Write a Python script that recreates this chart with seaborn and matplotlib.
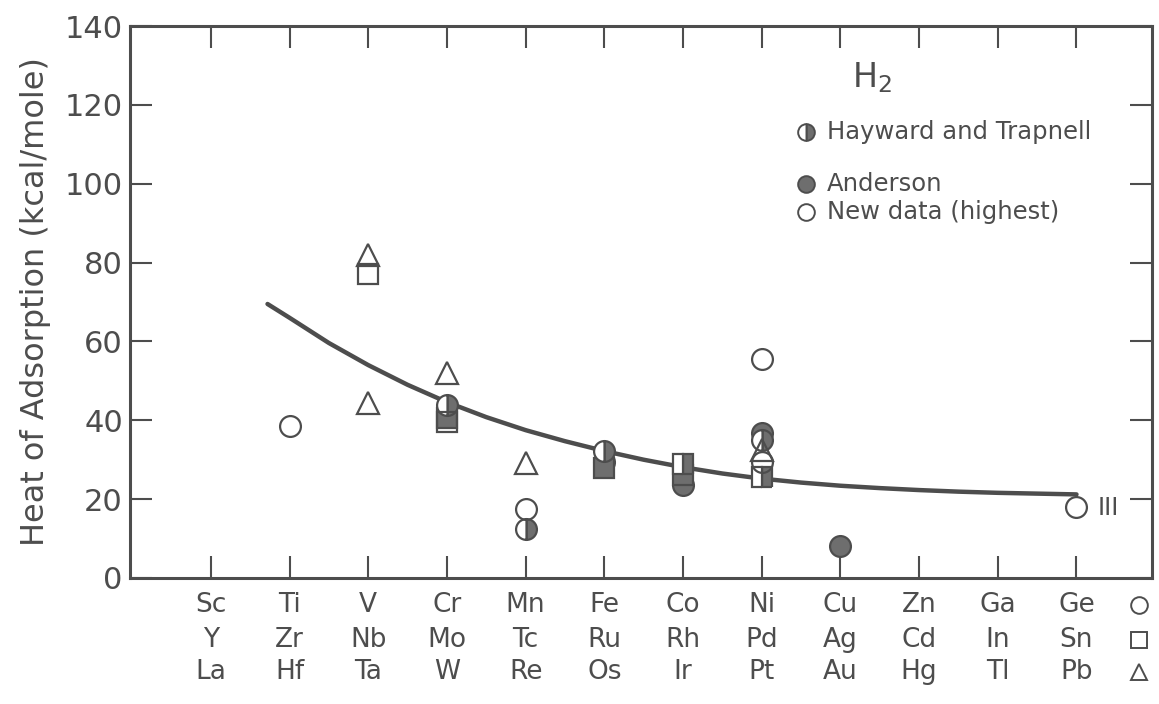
import matplotlib
matplotlib.use("Agg")
import matplotlib.pyplot as plt
import matplotlib.transforms as mtransforms
import seaborn as sns

# columns of the periodic table, one tick each (rows: period 4 / 5 / 6)
period4 = ["Sc", "Ti", "V", "Cr", "Mn", "Fe", "Co", "Ni", "Cu", "Zn", "Ga", "Ge"]
period5 = ["Y", "Zr", "Nb", "Mo", "Tc", "Ru", "Rh", "Pd", "Ag", "Cd", "In", "Sn"]
period6 = ["La", "Hf", "Ta", "W", "Re", "Os", "Ir", "Pt", "Au", "Hg", "Tl", "Pb"]

# points: column index, period (picks the marker), heat in kcal/mole
new_col = [1, 2, 2, 2, 3, 3, 4, 4, 7, 7, 7, 11]
new_per = [4, 5, 6, 6, 6, 5, 6, 4, 4, 6, 4, 4]
new_val = [38.5, 77, 82, 44.5, 52, 39.5, 29.2, 17.6, 55.5, 32.5, 29.5, 18]

hayward_col = [3, 4, 5, 6, 7, 7]
hayward_per = [4, 4, 4, 5, 4, 5]
hayward_val = [44, 12.5, 32.3, 28.8, 35, 25.5]

anderson_col = [3, 5, 5, 6, 6, 7, 8]
anderson_per = [5, 4, 5, 4, 5, 4, 4]
anderson_val = [40.5, 29.5, 28, 23.5, 26, 36.8, 8]

# smooth trend line drawn through the data
curve_col = [0.72, 1, 1.5, 2, 2.5, 3, 3.5, 4, 4.5, 5, 5.5, 6, 6.5, 7, 7.5, 8,
             8.5, 9, 9.5, 10, 10.5, 11]
curve_val = [69.5, 66, 59.6, 54.0, 49.0, 44.6, 40.8, 37.5, 34.7, 32.2, 30.0, 28.1,
             26.5, 25.2, 24.2, 23.4, 22.8, 22.3, 21.9, 21.6, 21.4, 21.2]

y_ticks = [0, 20, 40, 60, 80, 100, 120, 140]

INK = "#4d4d4d"
FILL = "#6e6e6e"
MARKER = {4: "o", 5: "s", 6: "^"}
MSIZE = {4: 15, 5: 14, 6: 16}

sns.set_style("ticks")
plt.rcParams["font.family"] = ["DejaVu Sans"]

fig = plt.figure(figsize=(11.59, 7.04), dpi=100)
ax = fig.add_axes([0.112, 0.179, 0.882, 0.784])

sns.lineplot(x=curve_col, y=curve_val, ax=ax, color=INK, linewidth=3.2,
             sort=False, estimator=None)


def draw_points(cols, pers, vals, style):
    for c, p, v in zip(cols, pers, vals):
        kw = dict(marker=MARKER[p], markersize=MSIZE[p], markeredgecolor=INK,
                  markeredgewidth=1.6, linestyle="none", zorder=3)
        if style == "open":
            kw.update(markerfacecolor="none", zorder=4)
        elif style == "half":
            kw.update(fillstyle="right", markerfacecolor=FILL,
                      markerfacecoloralt="white")
        else:
            kw.update(markerfacecolor=FILL)
        ax.plot([c], [v], **kw)


draw_points(anderson_col, anderson_per, anderson_val, "full")
draw_points(hayward_col, hayward_per, hayward_val, "half")
draw_points(new_col, new_per, new_val, "open")

ax.text(11.27, 17.7, "III", fontsize=17, color=INK, va="center", ha="left")

ax.set_xlim(-1.03, 11.96)
ax.set_ylim(0, 140)
ax.set_xticks(range(len(period4)))
ax.set_xticklabels([])
ax.set_yticks(y_ticks)
ax.set_yticklabels([str(t) for t in y_ticks])
ax.tick_params(axis="both", direction="in", length=16, width=1.5, color=INK,
               top=True, right=True, labelcolor=INK)
ax.tick_params(axis="y", labelsize=22, pad=5)
for s in ax.spines.values():
    s.set_linewidth(2.2)
    s.set_color(INK)

ax.set_ylabel("Heat of Adsorption (kcal/mole)", fontsize=23, color=INK, labelpad=10)

# element names under each tick, one line per period, plus the marker key
trans = mtransforms.blended_transform_factory(ax.transData, ax.transAxes)
row_y = [-0.049, -0.112, -0.170]
for names, yy, per in zip([period4, period5, period6], row_y, [4, 5, 6]):
    for i, name in enumerate(names):
        ax.text(i, yy, name, transform=trans, ha="center", va="center",
                fontsize=19, color=INK)
    ax.plot([11.8], [yy], transform=trans, clip_on=False, marker=MARKER[per],
            markersize=12, markerfacecolor="none", markeredgecolor=INK,
            markeredgewidth=1.4, linestyle="none")

# legend
ax.text(0.726, 0.906, "H$_2$", transform=ax.transAxes, fontsize=24,
        color=INK, ha="center", va="center")
legend_rows = [
    (0.808, "Hayward and Trapnell", "half"),
    (0.714, "Anderson", "full"),
    (0.663, "New data (highest)", "open"),
]
for yy, label, style in legend_rows:
    kw = dict(marker="o", markersize=12, markeredgecolor=INK, markeredgewidth=1.4,
              linestyle="none", transform=ax.transAxes)
    if style == "open":
        kw.update(markerfacecolor="none")
    elif style == "half":
        kw.update(fillstyle="right", markerfacecolor=FILL, markerfacecoloralt="white")
    else:
        kw.update(markerfacecolor=FILL)
    ax.plot([0.661], [yy], **kw)
    ax.text(0.682, yy, label, transform=ax.transAxes, fontsize=17.5, color=INK,
            ha="left", va="center")

fig.savefig("out.png", dpi=100)
